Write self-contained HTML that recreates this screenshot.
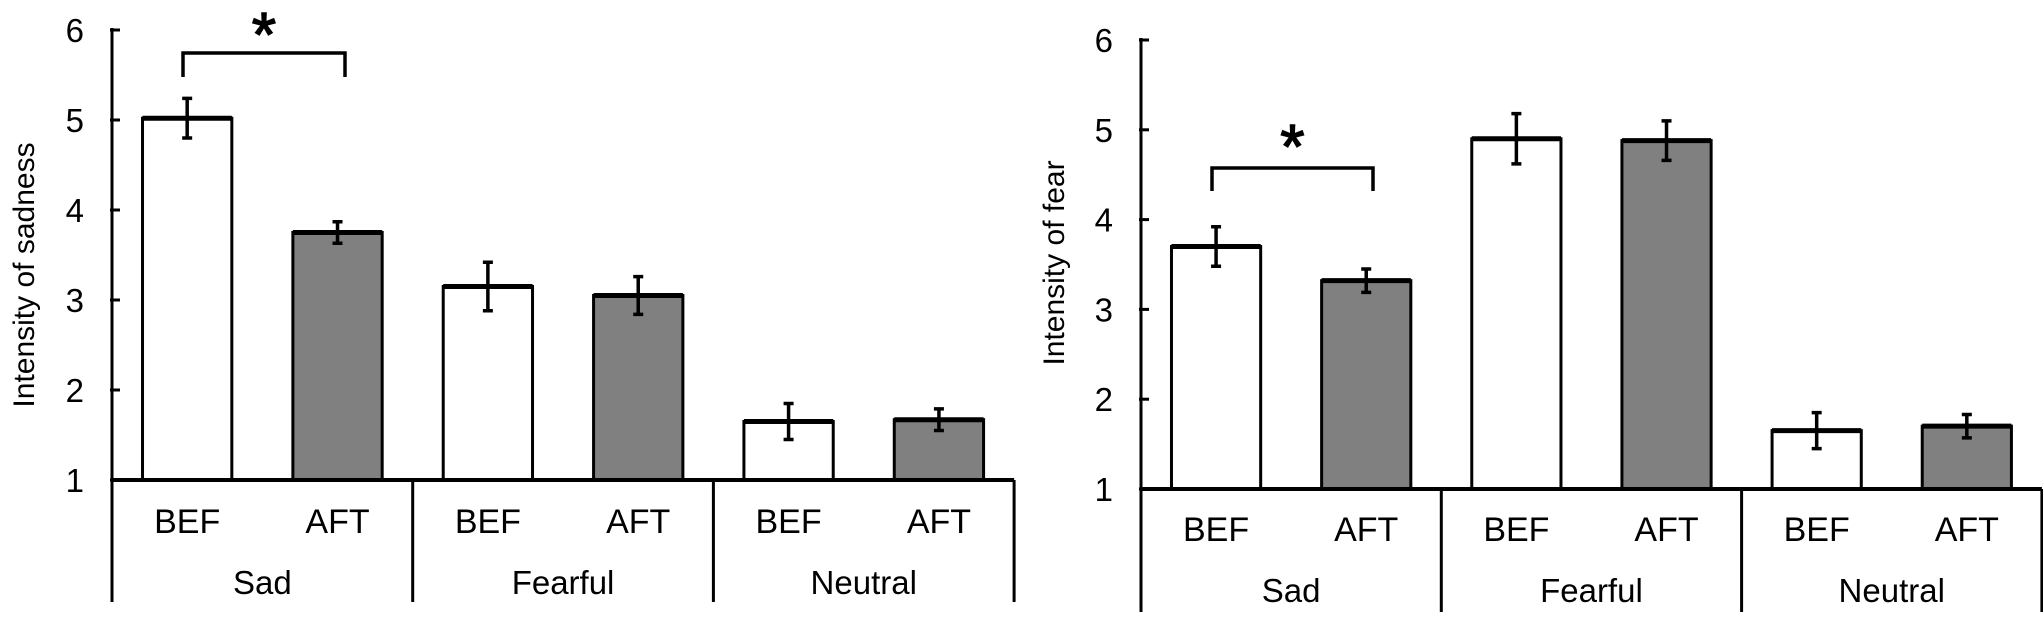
<!DOCTYPE html>
<html><head><meta charset="utf-8"><style>
body{margin:0;background:#fff;}
svg{display:block;font-family:"Liberation Sans",Arial,sans-serif;}
</style></head><body>
<svg id="s" width="2043" height="630" viewBox="0 0 2043 630"></svg>
<script>
const groups=["Sad","Fearful","Neutral"];
const conds=["BEF","AFT"];
const sadBef=[5.02,3.15,1.65];
const sadAft=[3.75,3.05,1.67];
const sadBefErr=[0.22,0.27,0.2];
const sadAftErr=[0.12,0.21,0.12];
const fearBef=[3.7,4.9,1.65];
const fearAft=[3.32,4.88,1.7];
const fearBefErr=[0.22,0.28,0.2];
const fearAftErr=[0.13,0.22,0.13];
const yTicks=[1,2,3,4,5,6];

const NS="http://www.w3.org/2000/svg";
const svg=document.getElementById('s');
function el(t,a,p){const e=document.createElementNS(NS,t);for(const k in a)e.setAttribute(k,a[k]);(p||svg).appendChild(e);return e;}

function panel(cfg){
  const g=el('g',{});
  
  
  const x0=cfg.x0,cw=cfg.cw,yTop=cfg.yTop,yBot=cfg.yBot,bottom=cfg.bottom;
  const y=v=>yBot-(v-1)/(6-1)*(yBot-yTop);
  const series=[[cfg.bef,cfg.befErr,'#ffffff'],[cfg.aft,cfg.aftErr,'#808080']];
  groups.forEach((gname,i)=>{
    series.forEach((s,j)=>{
      const cx=x0+cw*i+cw*(j===0?0.25:0.75);
      const bw=cw*0.297;
      const r=el('rect',{x:cx-bw/2,y:y(s[0][i]),width:bw,height:yBot-y(s[0][i]),fill:s[2],stroke:'#000','stroke-width':3},g);
      
      
      el('line',{x1:cx-bw/2,x2:cx+bw/2,y1:y(s[0][i]),y2:y(s[0][i]),stroke:'#000','stroke-width':5},g);
      const e=el('path',{d:`M${cx},${y(s[0][i]+s[1][i])}V${y(s[0][i]-s[1][i])}M${cx-5},${y(s[0][i]+s[1][i])}H${cx+5}M${cx-5},${y(s[0][i]-s[1][i])}H${cx+5}`,stroke:'#000','stroke-width':3.5,fill:'none'},g);
      
      
      const t=el('text',{x:cx,y:cfg.condY,'text-anchor':'middle','font-size':34},g);
      t.textContent=conds[j];
      
      
    });
    const t=el('text',{x:x0+cw*(i+0.5),y:cfg.groupY,'text-anchor':'middle','font-size':33},g);
    t.textContent=gname;
    
    
    el('line',{x1:x0+cw*(i+1),x2:x0+cw*(i+1),y1:yBot,y2:bottom,stroke:'#000','stroke-width':3},g);
  });
  const ya=el('line',{x1:x0,x2:x0,y1:yTop-2,y2:bottom,stroke:'#000','stroke-width':3},g);
  
  
  const xa=el('line',{x1:x0,x2:x0+cw*3,y1:yBot,y2:yBot,stroke:'#000','stroke-width':4},g);
  
  
  yTicks.forEach(v=>{
    el('line',{x1:x0-2,x2:x0+8,y1:y(v),y2:y(v),stroke:'#000','stroke-width':3},g);
    const t=el('text',{x:x0-28,y:y(v)+12,'text-anchor':'end','font-size':33},g);
    t.textContent=v;
    
    
  });
  const tt=el('text',{x:0,y:0,'text-anchor':'middle','font-size':30,transform:`translate(${cfg.titleX},${cfg.titleY}) rotate(-90)`},g);
  tt.textContent=cfg.title;
  
  
  const b=el('path',{d:`M${cfg.br[0]},${cfg.br[3]}V${cfg.br[2]}H${cfg.br[1]}V${cfg.br[3]}`,stroke:'#000','stroke-width':3.5,fill:'none'},g);
  
  
  const st=el('text',{x:(cfg.br[0]+cfg.br[1])/2,y:cfg.starY,'text-anchor':'middle','font-size':62,stroke:'#000','stroke-width':1.5},g);
  st.textContent='*';
  
  
}
panel({name:'sadness-chart',x0:112,cw:300.7,yTop:30,yBot:480,bottom:602,bef:sadBef,aft:sadAft,befErr:sadBefErr,aftErr:sadAftErr,condY:533,groupY:594,title:'Intensity of sadness',titleX:34,titleY:275,br:[183,345,53,77],starY:56});
panel({name:'fear-chart',x0:1141,cw:300.3,yTop:40,yBot:489,bottom:612,bef:fearBef,aft:fearAft,befErr:fearBefErr,aftErr:fearAftErr,condY:541,groupY:602,title:'Intensity of fear',titleX:1064,titleY:263,br:[1212,1373,168,191],starY:168});
</script>
</body></html>
